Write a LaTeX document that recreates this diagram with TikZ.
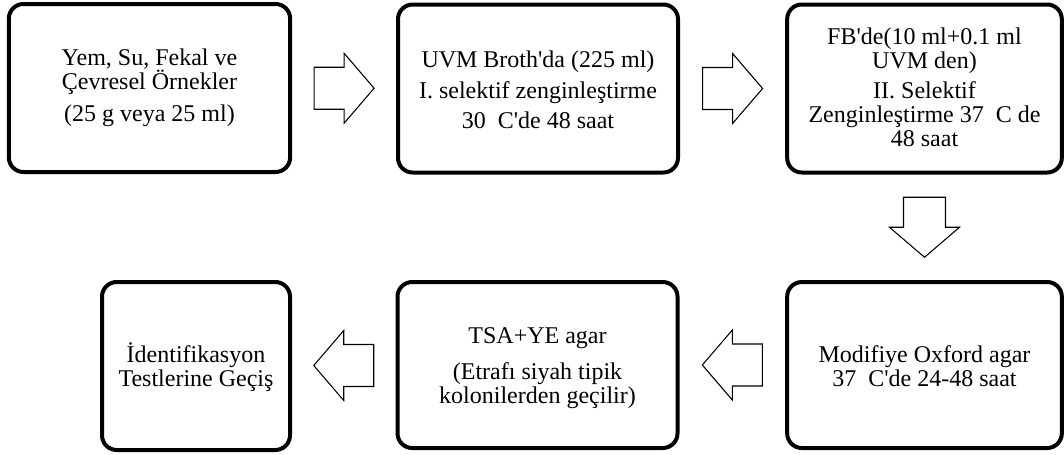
\documentclass[tikz,border=0pt]{standalone}
\usepackage{fontspec}
\setmainfont{Liberation Serif}
\usetikzlibrary{calc}

\newcommand{\ap}{\textquotesingle}

\begin{document}
\begin{tikzpicture}[
    x=0.75pt, y=-0.75pt,
    box/.style={draw, line width=3pt, rounded corners=11pt, minimum width=#1, minimum height=126pt},
    lowbox/.style={box=#1, minimum height=124.5pt},
    txt/.style={align=center, font=\fontsize{18}{18}\selectfont},
    blockarrow/.pic={
        \draw[line width=0.8pt] (-30,-21) -- (0,-21) -- (0,-35) -- (30,0) -- (0,35) -- (0,21) -- (-30,21) -- cycle;
    }
]
    \useasboundingbox (0,0) rectangle (1064,454);

    % upper row
    \node [box=211pt] (samples) at (149.5,88) {};
    \node [box=210pt] (uvm) at (538,88.5) {};
    \node [box=206pt] (fb) at (924.5,88.5) {};

    % lower row
    \node [lowbox=206pt] (oxford) at (924.5,365) {};
    \node [lowbox=210pt] (tsa) at (537.5,365) {};
    \node [box=141pt] (ident) at (196,366) {};

    % texts
    \node [txt] (samplestext) at (samples.center) {Yem, Su, Fekal ve\\Çevresel Örnekler\\[6pt](25 g veya 25 ml)};
    \node [txt] (uvmtext) at ([yshift=-1pt]uvm.center) {UVM Broth\ap da (225 ml)\\[5pt]I. selektif zenginleştirme\\[5pt]30\enspace C\ap de 48 saat};
    \node [txt] (fbtext) at ([yshift=1pt]fb.center) {FB\ap de(10 ml+0.1 ml\\UVM den)\\[4pt]II. Selektif\\Zenginleştirme 37\enspace C de\\48 saat};
    \node [txt] (oxfordtext) at ([yshift=-1pt]oxford.center) {Modifiye Oxford agar\\37\enspace C\ap de 24-48 saat};
    \node [txt] (tsatext) at ([yshift=-2pt]tsa.center) {TSA+YE agar\\[9pt](Etrafı siyah tipik\\kolonilerden geçilir)};
    \node [txt] (identtext) at ([yshift=-1pt]ident.center) {İdentifikasyon\\Testlerine Geçiş};

    % block arrows
    \pic at ($(samples.east)!0.5!(uvm.west)$) {blockarrow};
    \pic at ($(uvm.east)!0.5!(fb.west)$) {blockarrow};
    \pic [rotate=-90] at ($(fb.south)!0.5!(oxford.north)$) {blockarrow};
    \pic [rotate=180] at ($(oxford.west)!0.5!(tsa.east)$) {blockarrow};
    \pic [rotate=180] at ($(tsa.west)!0.5!(ident.east)$) {blockarrow};
\end{tikzpicture}
\end{document}
